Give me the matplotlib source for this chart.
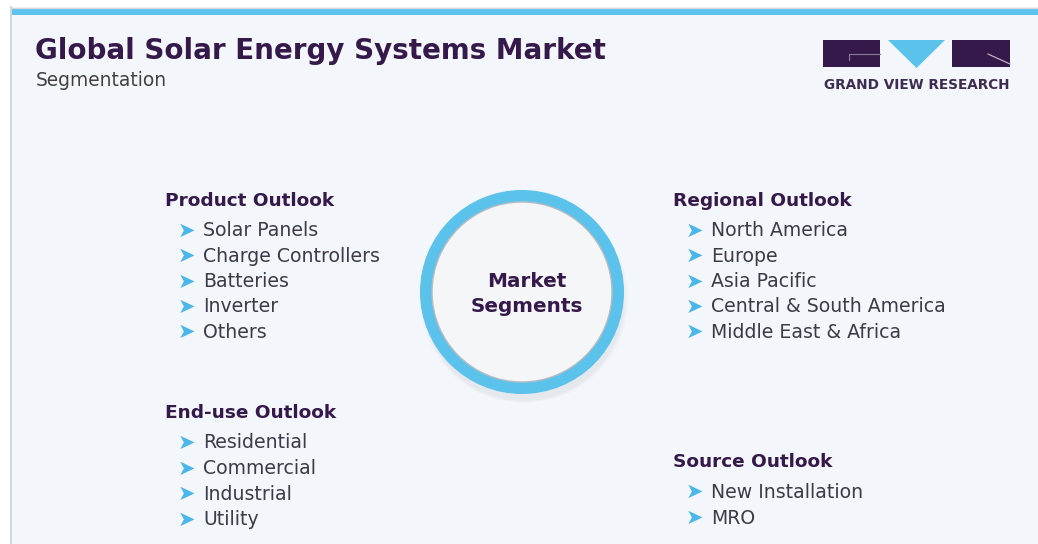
import matplotlib
matplotlib.use('Agg')
import matplotlib.pyplot as plt
from matplotlib.patches import Rectangle, Circle, Polygon

# text content
title = 'Global Solar Energy Systems Market'
subtitle = 'Segmentation'
center_label = 'Market\nSegments'

product_items = ['Solar Panels', 'Charge Controllers', 'Batteries', 'Inverter', 'Others']
regional_items = ['North America', 'Europe', 'Asia Pacific',
                  'Central & South America', 'Middle East & Africa']
enduse_items = ['Residential', 'Commercial', 'Industrial', 'Utility']
source_items = ['New Installation', 'MRO']

purple = '#35194a'
blue = '#5bc2ec'
gray_text = '#3c3c46'
font = 'DejaVu Sans'

fig = plt.figure(figsize=(10.38, 5.44), dpi=100)
ax = fig.add_axes([0, 0, 1, 1])
ax.set_xlim(0, 1038)
ax.set_ylim(544, 0)
ax.axis('off')

# panel background and borders
ax.add_patch(Rectangle((10, 7), 1028, 540, facecolor='#f3f6fa', edgecolor='none'))
ax.plot([10.5, 10.5], [7, 544], color='#d4d6da', lw=1.5)
ax.plot([10, 1038], [7.5, 7.5], color='#d4d6da', lw=1)
ax.add_patch(Rectangle((11, 8), 1027, 7, facecolor=blue, edgecolor='none'))

# title block
ax.text(35, 51, title, fontsize=20, fontweight='bold', color=purple,
        family=font, va='center', ha='left')
ax.text(36, 81, subtitle, fontsize=13.4, color='#404040',
        family=font, va='center', ha='left')

# logo
ax.add_patch(Rectangle((823, 40), 57, 27, facecolor=purple, edgecolor='none'))
ax.add_patch(Polygon([(888, 40), (945, 40), (916.5, 68)], closed=True,
                     facecolor=blue, edgecolor='none'))
ax.add_patch(Rectangle((952, 40), 58, 27, facecolor=purple, edgecolor='none'))
ax.plot([849, 849, 880], [60, 54, 54], color='#8a7d96', lw=0.8)
ax.plot([988, 1010], [54, 64], color='#c9c2d0', lw=0.8)
ax.text(916.5, 85, 'GRAND VIEW RESEARCH', fontsize=9.8, fontweight='bold',
        color='#3d2d52', family=font, va='center', ha='center')

# central circle with shadow
for i, a in enumerate([0.04, 0.05, 0.06]):
    ax.add_patch(Circle((524, 299 + i), 104 - i * 2, facecolor='#9aa0a8',
                        edgecolor='none', alpha=a))
ax.add_patch(Circle((522, 292), 102, facecolor=blue, edgecolor='none'))
ax.add_patch(Circle((522, 292), 90, facecolor='#f5f6f8', edgecolor='#b8bcc2', lw=1))
ax.text(527, 294, center_label, fontsize=14.4, fontweight='bold', color=purple,
        family=font, va='center', ha='center', linespacing=1.4)


def draw_group(x, y, heading, items, step):
    ax.text(x, y + 1, heading, fontsize=13.3, fontweight='bold', color=purple,
            family=font, va='center', ha='left')
    for k, item in enumerate(items):
        yy = y + 31 + k * step
        ax.text(x + 13, yy, '\u27a4', fontsize=15, color='#4ab6ea',
                family='DejaVu Sans', va='center', ha='left')
        ax.text(x + 38, yy, item, fontsize=13.6, color=gray_text,
                family=font, va='center', ha='left')


draw_group(165, 200, 'Product Outlook', product_items, 25.3)
draw_group(673, 200, 'Regional Outlook', regional_items, 25.3)
draw_group(165, 412, 'End-use Outlook', enduse_items, 25.5)
draw_group(673, 461, 'Source Outlook', source_items, 26)

fig.savefig('out.png', dpi=100)
